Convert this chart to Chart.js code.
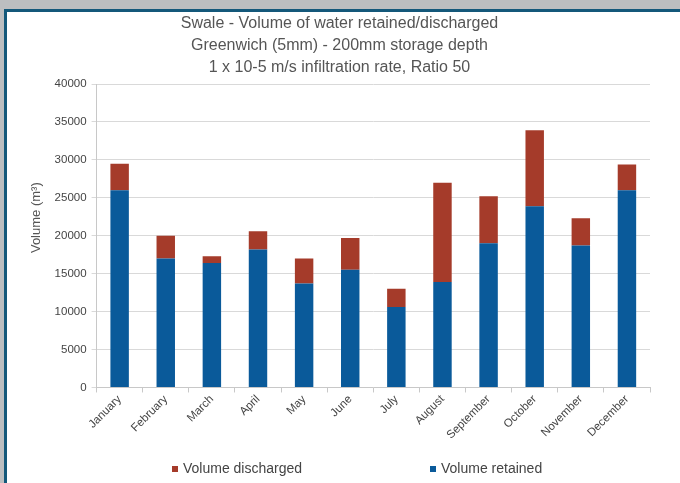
<!DOCTYPE html>
<html>
<head>
<meta charset="utf-8">
<script src="https://cdn.jsdelivr.net/npm/chart.js@4.4.1/dist/chart.umd.min.js"></script>
<style>
  html, body { margin: 0; padding: 0; background: #bcbec0; }
  #frame {
    position: absolute; left: 4px; top: 9px;
    width: 673px; height: 471px;
    border-left: 3px solid #14587a; border-top: 3px solid #14587a;
    background: #fff;
  }
  #frame canvas { display: block; }
</style>
</head>
<body>
<div id="frame"><canvas id="swaleChart" width="673" height="471"></canvas></div>
<script>
// Swale - volume of water retained / discharged per month

const months = ['January', 'February', 'March', 'April', 'May', 'June',
    'July', 'August', 'September', 'October', 'November', 'December'];
const retained = [26000, 17000, 16400, 18200, 13700, 15500, 10600, 13900, 19000, 23900, 18700, 26000];
const discharged = [3500, 3000, 900, 2400, 3300, 4200, 2400, 13100, 6200, 10000, 3600, 3400];
const yTicks = [0, 5000, 10000, 15000, 20000, 25000, 30000, 35000, 40000];

const titleLines = [
    'Swale - Volume of water retained/discharged',
    'Greenwich (5mm) - 200mm storage depth',
    '1 x 10-5 m/s infiltration rate, Ratio 50'
];

Chart.defaults.font.family = '"Liberation Sans", Arial, sans-serif';
Chart.defaults.color = '#444';

// legend drawn by hand: the built-in one can't space items this wide
// without also padding it vertically
const wideLegend = {
    id: 'wideLegend',
    afterDraw(chart, args, opts) {
        const c = chart.ctx;
        const y = chart.height - opts.bottom;
        c.save();
        c.font = '14px "Liberation Sans", Arial, sans-serif';
        c.textBaseline = 'middle';
        opts.order.forEach((dsIndex, i) => {
            const ds = chart.data.datasets[dsIndex];
            const x = opts.xs[i];
            c.fillStyle = ds.backgroundColor;
            c.fillRect(x, y - 3, 6, 6);
            c.fillStyle = '#444';
            c.fillText(ds.label, x + 11, y);
        });
        c.restore();
    }
};

const ctx = document.getElementById('swaleChart').getContext('2d');

const swaleChart = new Chart(ctx, {
    type: 'bar',
    data: {
        labels: months,
        datasets: [
            {
                label: 'Volume retained',
                data: retained,
                backgroundColor: '#0a5a9a',
                categoryPercentage: 0.8,
                barPercentage: 0.5
            },
            {
                label: 'Volume discharged',
                data: discharged,
                backgroundColor: '#a53b2a',
                categoryPercentage: 0.8,
                barPercentage: 0.5
            }
        ]
    },
    options: {
        responsive: false,
        animation: false,
        layout: {
            padding: { left: 22, right: 30, top: 0, bottom: 41 }
        },
        scales: {
            x: {
                stacked: true,
                grid: {
                    offset: true,
                    drawOnChartArea: false,
                    drawTicks: true,
                    tickLength: 5,
                    color: '#c8c8c8'
                },
                border: { color: '#c8c8c8' },
                ticks: {
                    minRotation: 45,
                    maxRotation: 45,
                    autoSkip: false,
                    font: { size: 11.5 },
                    color: '#444',
                    padding: 0
                }
            },
            y: {
                stacked: true,
                min: 0,
                max: 40000,
                afterBuildTicks: axis => {
                    axis.ticks = yTicks.map(v => ({ value: v }));
                },
                grid: {
                    color: '#d9d9d9',
                    tickLength: 5
                },
                border: { color: '#c8c8c8' },
                ticks: {
                    font: { size: 11.5 },
                    color: '#444',
                    padding: 5,
                    callback: v => String(v)
                },
                title: {
                    display: true,
                    // leading spaces nudge the label up the axis, as in the original
                    text: ' '.repeat(10) + 'Volume (m³)',
                    font: { size: 13 },
                    color: '#555',
                    padding: { top: 0, bottom: 5 }
                }
            }
        },
        plugins: {
            title: {
                display: true,
                text: titleLines,
                font: { size: 16, weight: 'normal', lineHeight: 1.375 },
                color: '#555',
                padding: { top: 1, bottom: 5 }
            },
            legend: { display: false },
            wideLegend: {
                order: [1, 0],
                xs: [165, 423],
                bottom: 14
            },
            tooltip: { enabled: false }
        }
    },
    plugins: [wideLegend]
});
</script>
</body>
</html>
